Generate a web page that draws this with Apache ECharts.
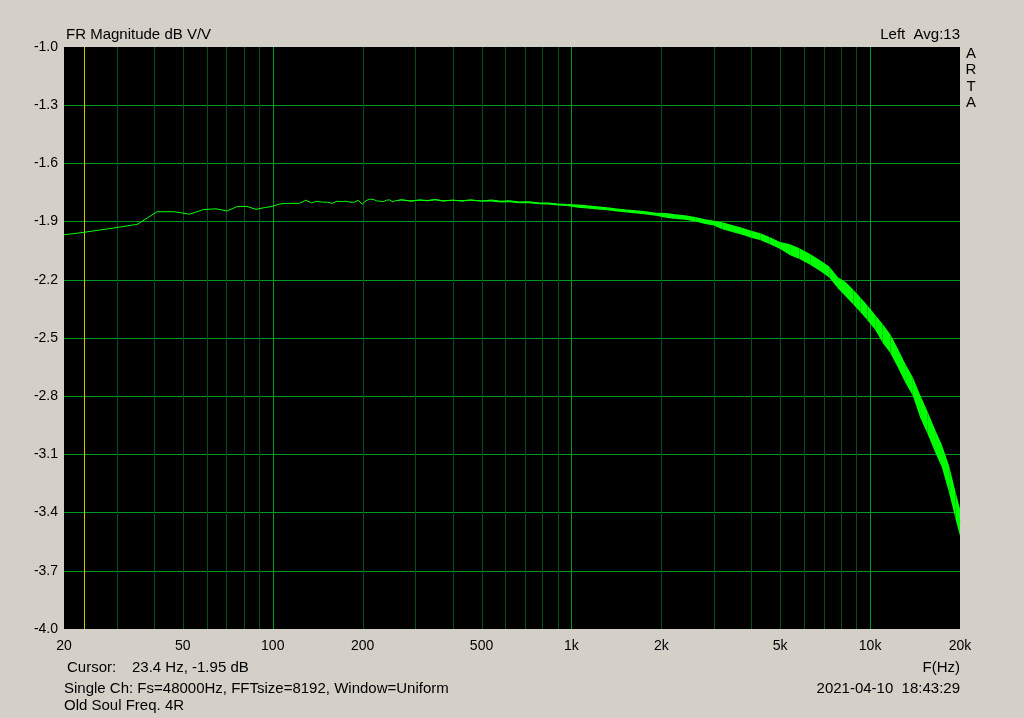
<!DOCTYPE html>
<html>
<head>
<meta charset="utf-8">
<script src="https://cdn.jsdelivr.net/npm/echarts@6/dist/echarts.min.js"></script>
<style>
html,body{margin:0;padding:0;background:#d4d0c8;}
#c{width:1024px;height:718px;}
</style>
</head>
<body>
<div id="c"></div>
<script>
// ---- data ----
const freqHz = [20, 23.4, 29.3, 35.2, 41.0, 46.9, 52.7, 58.6, 64.5, 70.3, 76.2, 82.0, 87.9, 93.8, 99.6,
  105.5, 111.3, 117.2, 123.0, 128.9, 134.8, 140.6, 146.5, 152.3, 158.2, 164.1, 169.9, 175.8, 181.6, 187.5,
  193.4, 199.2, 205.1, 210.9, 216.8, 222.7, 228.5, 234.4, 240.2, 246.1, 252.0, 257.8,
  269.5, 290, 310, 330, 350, 370, 400, 430, 460, 500, 540, 580, 620, 670, 720, 780, 840, 900, 970,
  1050, 1130, 1220, 1320, 1420, 1530, 1650, 1780, 1920, 2070, 2230, 2400, 2600, 2800, 3000,
  3200, 3450, 3700, 4000, 4300, 4600, 5000, 5400, 5800, 6300, 6800, 7300, 7800, 8300, 8800, 9300, 9800,
  10400, 11000, 11700, 12400, 13100, 13900, 14700, 15600, 16500, 17400, 18400, 19300, 20000];
const levelDb = [-1.968, -1.955, -1.933, -1.914, -1.849, -1.849, -1.862, -1.838, -1.834, -1.845, -1.822, -1.822, -1.837, -1.828, -1.822,
  -1.809, -1.806, -1.806, -1.806, -1.790, -1.803, -1.795, -1.800, -1.800, -1.806, -1.795, -1.797, -1.795, -1.800, -1.800,
  -1.790, -1.811, -1.792, -1.785, -1.785, -1.793, -1.795, -1.797, -1.790, -1.788, -1.798, -1.792,
  -1.788, -1.794, -1.789, -1.792, -1.787, -1.793, -1.790, -1.793, -1.789, -1.794, -1.791, -1.797, -1.795, -1.801, -1.800, -1.806, -1.807, -1.812, -1.814,
  -1.820, -1.824, -1.829, -1.834, -1.840, -1.845, -1.850, -1.855, -1.862, -1.868, -1.874, -1.879, -1.888, -1.900, -1.908,
  -1.921, -1.935, -1.949, -1.965, -1.978, -1.998, -2.023, -2.045, -2.065, -2.095, -2.127, -2.160, -2.215, -2.250, -2.290, -2.330, -2.370,
  -2.420, -2.475, -2.530, -2.605, -2.680, -2.750, -2.850, -2.940, -3.030, -3.110, -3.230, -3.360, -3.450];
// half width of the noisy band (dB)
const spreadDb = [0,0,0,0,0,0,0,0,0,0,0,0,0,0,0,
  0,0,0,0,0,0,0,0,0,0,0,0,0,0,0,
  0,0,0,0,0,0,0,0,0,0,0,0,
  0.003, 0.003, 0.003, 0.003, 0.003, 0.003, 0.003, 0.003, 0.003, 0.003, 0.005, 0.005, 0.005, 0.005, 0.005, 0.005, 0.005, 0.005, 0.005,
  0.008, 0.008, 0.008, 0.008, 0.008, 0.008, 0.008, 0.008, 0.008, 0.012, 0.012, 0.012, 0.012, 0.012, 0.012,
  0.018, 0.018, 0.018, 0.018, 0.018, 0.018, 0.018, 0.028, 0.028, 0.028, 0.028, 0.028, 0.028, 0.038, 0.038, 0.038, 0.038,
  0.038, 0.048, 0.048, 0.048, 0.048, 0.048, 0.058, 0.058, 0.058, 0.058, 0.07, 0.07, 0.07];

const xTickValues = [20, 50, 100, 200, 500, 1000, 2000, 5000, 10000, 20000];
const xTickLabels = ['20', '50', '100', '200', '500', '1k', '2k', '5k', '10k', '20k'];
const minorGridHz = [30, 40, 50, 60, 70, 80, 90, 200, 300, 400, 500, 600, 700, 800, 900,
  2000, 3000, 4000, 5000, 6000, 7000, 8000, 9000];
const majorGridHz = [100, 1000, 10000];
const cursorHz = 23.4;

const yMin = -4.0, yMax = -1.0, yStep = 0.3;

const FONT = '"Liberation Sans", Arial, sans-serif';
const GREEN_MAJOR = '#009a1e';
const GREEN_MINOR = '#00501a';
const CURSOR = '#c8c800';
const TRACE = '#00ff00';

const centerData = freqHz.map((f, i) => [f, levelDb[i]]);
// one quad per interval between two measured frequencies
const bandData = [];
for (let i = 0; i + 1 < freqHz.length; i++) {
  if (spreadDb[i] > 0 || spreadDb[i + 1] > 0) {
    bandData.push([freqHz[i], levelDb[i] - spreadDb[i], levelDb[i] + spreadDb[i],
      freqHz[i + 1], levelDb[i + 1] - spreadDb[i + 1], levelDb[i + 1] + spreadDb[i + 1]]);
  }
}
const gridData = [];
minorGridHz.forEach(v => gridData.push([v, 0]));
majorGridHz.forEach(v => gridData.push([v, 1]));
gridData.push([cursorHz, 2]);
const gridColors = [GREEN_MINOR, GREEN_MAJOR, CURSOR];

const chart = echarts.init(document.getElementById('c'), null, {renderer: 'canvas'});

chart.setOption({
  animation: false,
  backgroundColor: '#d4d0c8',
  grid: {left: 64, right: 64, top: 47, bottom: 89, show: true, backgroundColor: '#000', borderWidth: 0},
  xAxis: {
    type: 'log', logBase: 10, min: 20, max: 20000,
    axisLine: {show: false}, axisTick: {show: false}, axisLabel: {show: false}, splitLine: {show: false}
  },
  yAxis: {
    type: 'value', min: yMin, max: yMax, interval: yStep,
    axisLine: {show: false}, axisTick: {show: false},
    axisLabel: {color: '#000', fontSize: 14, fontFamily: FONT, margin: 6, formatter: v => v.toFixed(1)},
    splitLine: {show: true, showMinLine: false, showMaxLine: false, lineStyle: {color: GREEN_MAJOR, width: 1}}
  },
  series: [
    {
      type: 'custom', name: 'vgrid', data: gridData, z: 1, silent: true, clip: true,
      renderItem: function (params, api) {
        const f = api.value(0), kind = api.value(1);
        const top = api.coord([f, yMax]);
        const bot = api.coord([f, yMin]);
        const x = Math.round(top[0]) + 0.5;
        return {type: 'line', shape: {x1: x, y1: top[1], x2: x, y2: bot[1]},
          style: {stroke: gridColors[kind], lineWidth: 1}};
      }
    },
    {
      type: 'custom', name: 'band', data: bandData, z: 3, silent: true, clip: true,
      renderItem: function (params, api) {
        const a = api.coord([api.value(0), api.value(1)]);
        const b = api.coord([api.value(3), api.value(4)]);
        const c = api.coord([api.value(3), api.value(5)]);
        const d = api.coord([api.value(0), api.value(2)]);
        return {type: 'polygon', shape: {points: [a, b, c, d]},
          style: {fill: TRACE, stroke: null, lineWidth: 0}};
      }
    },
    {
      type: 'line', name: 'FR', data: centerData, symbol: 'none',
      lineStyle: {width: 1, color: TRACE}, z: 4, silent: true
    }
  ]
});

// texts
const graphics = [];
xTickValues.forEach((v, i) => {
  const p = chart.convertToPixel({xAxisIndex: 0}, v);
  graphics.push({type: 'text', x: p, y: 646, style: {text: xTickLabels[i], font: '14px ' + FONT, fill: '#000', textAlign: 'center', textVerticalAlign: 'middle'}});
});
function txt(t, x, y, align) {
  graphics.push({type: 'text', x: x, y: y, style: {text: t, font: '15px ' + FONT, fill: '#000', textAlign: align || 'left', textVerticalAlign: 'middle'}});
}
txt('FR Magnitude dB V/V', 66, 35);
txt('Left  Avg:13', 960, 35, 'right');
['A', 'R', 'T', 'A'].forEach((c, i) => txt(c, 971, 54 + i * 16.3, 'center'));
txt('Cursor:', 67, 668);
txt('23.4 Hz, -1.95 dB', 132, 668);
txt('F(Hz)', 960, 668, 'right');
txt('Single Ch: Fs=48000Hz, FFTsize=8192, Window=Uniform', 64, 689);
txt('2021-04-10  18:43:29', 960, 689, 'right');
txt('Old Soul Freq. 4R', 64, 706);
chart.setOption({graphic: graphics});
</script>
</body>
</html>
